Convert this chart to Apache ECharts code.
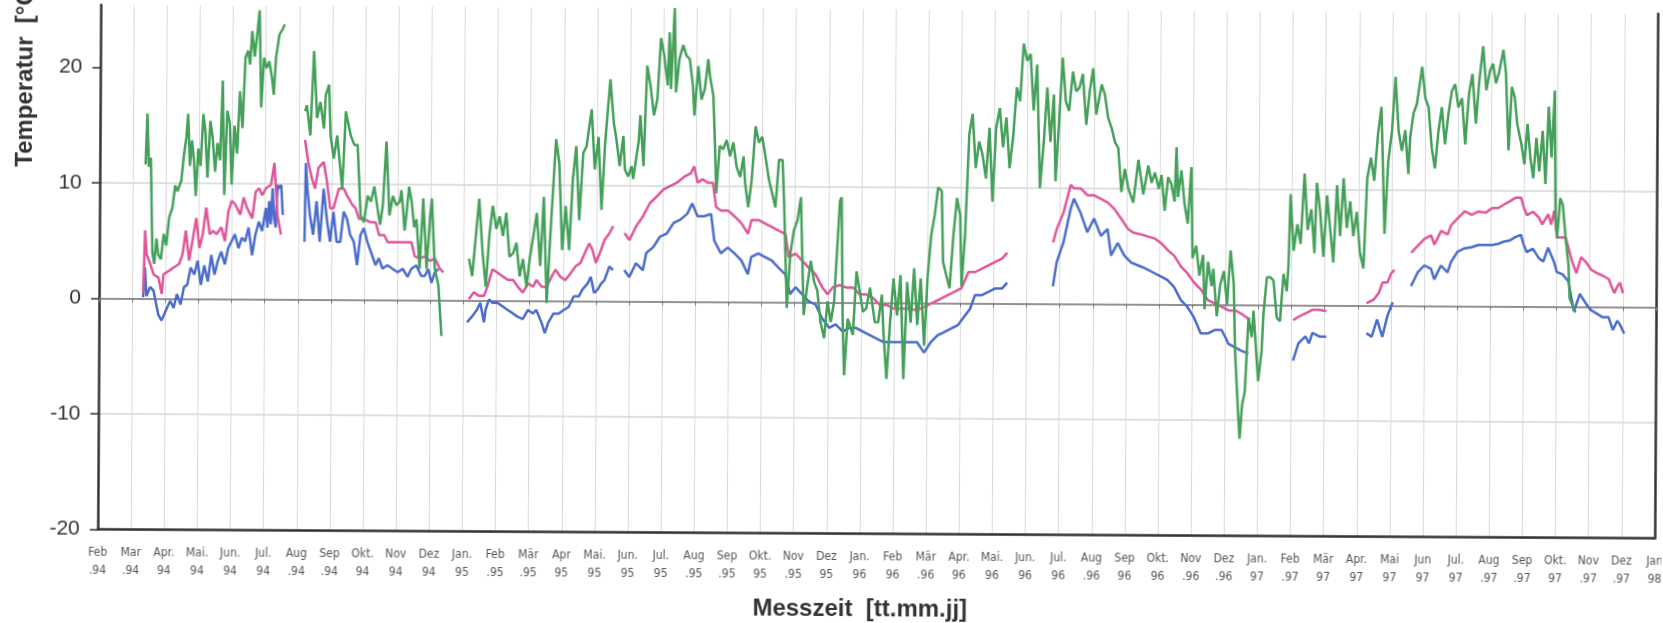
<!DOCTYPE html>
<html><head><meta charset="utf-8">
<script src="https://cdn.jsdelivr.net/npm/echarts@6/dist/echarts.min.js"></script>
<style>
html,body{margin:0;padding:0;background:#fff;overflow:hidden}
#c{width:1663px;height:623px;transform:rotate(0.33deg);transform-origin:50% 50%}
</style>
</head><body><div id="c"></div>
<script>
// Tick labels: one per month, index 0 = Feb 1994 ... 47 = Jan 1998
const monthLabels = ['Feb\n.94','Mar\n.94','Apr.\n94','Mai.\n94','Jun.\n94','Jul.\n94','Aug\n.94','Sep\n.94','Okt.\n94','Nov\n94','Dez\n94',
 'Jan.\n95','Feb\n.95','Mär\n.95','Apr\n95','Mai.\n95','Jun.\n95','Jul.\n95','Aug\n.95','Sep\n.95','Okt.\n95','Nov\n.95','Dez\n95',
 'Jan.\n96','Feb\n96','Mär\n.96','Apr.\n96','Mai.\n96','Jun.\n96','Jul.\n96','Aug\n.96','Sep\n96','Okt.\n96','Nov\n.96','Dez\n.96',
 'Jan.\n97','Feb\n.97','Mär\n97','Apr.\n97','Mai\n97','Jun\n97','Jul.\n97','Aug\n.97','Sep\n.97','Okt.\n97','Nov\n.97','Dez\n.97','Jan\n98'];
const yTicks = [-20,-10,0,10,20];

// Measurement time in months since 1 Feb 1994, temperature value
const greenSegments = [
[[1.38,11.6],[1.43,16.0],[1.48,11.4],[1.54,12.2],[1.60,4.0],[1.66,3.0],[1.72,5.2],[1.78,3.8],[1.86,3.4],[1.94,5.6],[2.02,4.6],[2.10,7.0],[2.20,7.9],[2.28,9.8],[2.35,9.3],[2.46,10.2],[2.54,12.5],[2.61,14.0],[2.66,16.0],[2.72,11.5],[2.78,13.7],[2.84,12.0],[2.90,8.9],[2.97,13.0],[3.04,11.5],[3.12,16.0],[3.18,14.5],[3.25,10.5],[3.33,15.4],[3.40,14.0],[3.48,11.0],[3.55,13.5],[3.63,12.0],[3.70,18.9],[3.76,9.0],[3.84,16.3],[3.92,15.2],[3.98,9.9],[4.06,15.0],[4.14,12.6],[4.22,18.0],[4.30,14.8],[4.38,20.9],[4.46,21.5],[4.52,20.3],[4.58,23.2],[4.66,21.0],[4.74,23.2],[4.80,25.0],[4.86,16.6],[4.94,20.9],[5.02,20.0],[5.10,20.6],[5.18,19.2],[5.24,17.7],[5.30,20.9],[5.40,22.9],[5.50,23.4],[5.56,23.8]],
[[6.19,16.3],[6.24,16.8],[6.35,14.2],[6.45,21.5],[6.55,15.7],[6.65,17.1],[6.76,14.8],[6.81,17.7],[6.91,18.6],[6.96,14.2],[7.06,12.2],[7.16,14.2],[7.32,9.6],[7.42,16.3],[7.57,14.2],[7.68,13.4],[7.78,13.4],[7.88,7.3],[7.98,6.7],[8.09,9.0],[8.19,8.5],[8.29,9.8],[8.39,7.9],[8.47,6.5],[8.55,8.2],[8.65,13.7],[8.75,7.3],[8.85,9.0],[8.96,8.2],[9.06,8.5],[9.11,9.5],[9.16,7.9],[9.21,6.0],[9.26,7.3],[9.34,9.8],[9.42,8.5],[9.50,6.3],[9.57,7.0],[9.67,2.7],[9.77,8.8],[9.88,2.7],[9.98,7.3],[10.03,8.8],[10.13,2.7],[10.24,1.3],[10.34,-3.1]],
[[11.16,3.6],[11.26,2.1],[11.46,8.8],[11.57,4.1],[11.67,1.2],[11.77,5.6],[11.87,8.2],[11.98,6.2],[12.08,7.3],[12.18,5.6],[12.28,7.6],[12.38,3.8],[12.49,4.1],[12.59,5.0],[12.69,2.1],[12.79,3.6],[12.90,1.2],[13.00,3.8],[13.10,5.6],[13.20,7.6],[13.31,3.0],[13.41,9.0],[13.51,-0.2],[13.61,5.6],[13.77,14.0],[13.87,11.9],[13.97,4.4],[14.07,8.2],[14.18,4.4],[14.28,10.5],[14.38,13.4],[14.48,7.0],[14.59,12.8],[14.69,13.4],[14.84,16.6],[14.94,11.4],[15.05,14.2],[15.15,7.9],[15.25,13.7],[15.40,19.2],[15.51,15.4],
[15.59,14.0],[15.69,11.7],[15.80,14.3],[15.85,11.4],[15.95,10.8],[16.05,11.7],[16.10,10.6],[16.26,13.8],[16.31,16.1],[16.41,11.7],[16.51,20.4],[16.61,18.7],[16.72,16.1],[16.82,17.5],[16.92,22.8],[17.02,21.3],[17.13,18.7],[17.18,23.3],[17.23,18.4],[17.33,25.4],[17.38,18.1],[17.48,21.0],[17.59,22.2],[17.69,21.3],[17.79,21.0],[17.89,18.7],[17.94,16.1],[18.05,20.4],[18.15,17.5],[18.25,18.4],[18.35,21.0],[18.40,19.6],[18.51,17.8],[18.56,14.0],[18.61,9.4],[18.71,13.5],[18.81,13.2],[18.92,14.0],[19.02,12.6],[19.12,13.8],[19.22,11.7],[19.33,10.8],[19.43,12.6],[19.48,10.3],[19.58,8.2],[19.68,10.6],[19.79,15.2],[19.89,13.8],[19.99,14.3],[20.09,12.6],[20.20,10.6],[20.30,9.4],[20.40,8.2],[20.50,12.3],[20.61,12.3],[20.66,8.8],[20.76,-0.5],[20.86,4.2],[20.96,6.2],[21.07,7.1],[21.17,9.1],[21.27,-1.1],[21.37,1.3],[21.48,3.6],[21.58,1.8],[21.68,1.0],[21.78,-1.7],[21.89,-3.1],[21.99,0.1],[22.09,-1.7],[22.19,0.1],[22.35,8.8],[22.40,9.1],[22.45,-1.7],[22.50,-6.3],[22.60,-1.4],[22.76,-2.8],[22.86,2.7],[22.96,1.0],[23.06,-0.8],[23.16,-0.5],[23.27,1.3],[23.42,-1.7],[23.52,-1.7],[23.63,0.7],[23.68,-2.5],[23.78,-6.6],[23.88,-1.7],[23.98,2.1],[24.09,-1.1],[24.19,2.4],[24.29,-6.6],[24.39,1.8],[24.50,-1.7],[24.60,3.0],[24.70,-1.9],[24.80,2.1],[24.91,-3.7],[25.01,2.4],[25.11,5.9],[25.21,7.6],[25.31,10.0],[25.42,9.7],[25.47,3.6],[25.57,2.4],[25.67,1.3],[25.78,5.9],[25.88,9.1],[25.98,7.6],[26.03,1.5],[26.13,5.9],[26.24,14.6],[26.34,16.4],[26.44,11.7],[26.54,14.0],[26.64,12.9],[26.75,10.8],[26.85,15.2],[26.95,8.8],[27.05,15.2],[27.16,16.9],[27.26,13.5],[27.36,16.1],[27.46,11.7],[27.57,14.6],[27.67,18.7],[27.77,17.5],[27.87,22.5],[27.98,21.0],[28.08,21.6],[28.18,16.7],[28.28,20.7],[28.38,10.0],[28.49,14.0],[28.59,18.7],[28.69,14.0],[28.79,18.1],[28.85,10.6],[28.95,15.8],[29.05,21.3],[29.15,17.5],[29.25,16.7],[29.36,20.1],[29.46,18.4],[29.56,18.7],[29.66,19.9],[29.77,15.5],[29.87,18.4],[29.97,20.4],[30.07,16.4],[30.23,19.0],[30.33,18.1],[30.43,16.1],[30.54,15.2],[30.64,14.0],[30.74,13.5],[30.84,9.7],[30.94,11.7],[31.05,10.0],[31.20,8.8],[31.35,12.5],[31.50,9.5],[31.65,12.0],[31.75,10.5],
[31.85,11.4],[31.97,10.0],[32.05,11.2],[32.15,8.1],[32.25,11.0],[32.35,10.4],[32.45,8.9],[32.50,13.6],[32.55,9.3],[32.65,11.6],[32.75,8.7],[32.85,7.0],[32.95,11.9],[33.00,4.0],[33.11,5.1],[33.21,2.5],[33.32,4.3],[33.37,-0.4],[33.47,3.7],[33.58,1.6],[33.63,3.1],[33.74,-1.0],[33.84,1.7],[33.95,2.9],[34.05,0.0],[34.15,4.7],[34.25,1.8],[34.30,-4.1],[34.40,-9.3],[34.45,-11.6],[34.52,-8.7],[34.60,-7.5],[34.70,-1.1],[34.80,-2.8],[34.85,-0.5],[34.95,-4.6],[35.00,-6.6],[35.10,-4.0],[35.15,-0.8],[35.25,2.4],[35.35,2.4],[35.45,2.1],[35.55,-1.1],[35.65,-1.4],[35.75,2.7],[35.85,1.2],[35.90,3.5],[35.95,9.6],[36.05,4.7],[36.16,7.0],[36.26,5.3],[36.37,11.4],[36.47,6.5],[36.58,8.3],[36.68,4.5],[36.74,10.6],[36.84,8.3],[36.95,4.2],[37.05,9.5],[37.15,6.6],[37.25,3.7],[37.35,10.4],[37.45,6.0],[37.55,11.0],[37.65,6.7],[37.75,9.0],[37.85,6.0],[37.95,8.1],[38.05,4.6],[38.16,3.2],[38.26,11.0],[38.37,12.8],[38.47,10.8],[38.58,14.9],[38.68,17.2],[38.79,6.2],[38.89,12.5],[39.00,15.1],[39.10,19.8],[39.20,15.1],[39.30,13.4],[39.40,15.2],[39.50,11.4],[39.55,14.6],[39.65,16.7],[39.75,17.5],[39.90,20.7],[40.00,18.0],[40.10,17.2],[40.20,13.7],[40.30,11.9],[40.40,15.1],[40.50,17.2],[40.60,14.0],[40.70,16.6],[40.80,18.6],[40.90,19.2],[41.00,17.2],[41.11,18.0],[41.21,14.0],[41.32,18.4],[41.42,20.1],[41.53,15.8],[41.63,19.6],[41.74,22.5],[41.84,18.7],[41.95,20.4],[42.04,21.0],[42.13,19.3],[42.22,20.2],[42.35,22.2],[42.43,20.2],[42.52,13.5],[42.61,19.0],[42.70,18.1],[42.78,15.8],[42.91,14.0],[43.00,12.3],[43.09,15.8],[43.18,12.9],[43.27,11.1],[43.36,14.6],[43.45,11.7],[43.55,15.2],[43.64,10.6],[43.73,17.3],[43.82,12.9],[43.91,18.7],[43.95,7.9],[44.00,5.9],[44.09,9.4],[44.17,8.8],[44.26,5.9],[44.35,3.6],[44.39,0.7],[44.48,0.1],[44.57,-0.5]]
];

const pinkSegments = [
[[1.33,0.5],[1.38,5.9],[1.43,3.8],[1.54,3.0],[1.64,2.1],[1.79,1.8],[1.89,0.4],[1.94,2.1],[2.10,2.4],[2.25,2.7],[2.41,3.0],[2.51,3.8],[2.61,5.9],[2.71,3.3],[2.81,5.0],[2.92,7.0],[3.02,4.4],[3.12,5.6],[3.22,7.9],[3.33,5.6],[3.43,5.9],[3.53,5.6],[3.68,6.2],[3.79,5.0],[3.89,7.6],[3.99,8.5],[4.09,8.2],[4.25,7.3],[4.35,8.8],[4.45,7.9],[4.61,7.0],[4.71,9.3],[4.81,9.6],[4.91,9.0],[5.02,9.6],[5.17,9.9],[5.27,11.8],[5.37,7.3],[5.48,5.6]],
[[6.19,13.8],[6.29,11.9],[6.40,10.5],[6.50,9.6],[6.60,11.4],[6.76,11.9],[6.86,10.2],[6.96,7.9],[7.06,7.9],[7.22,9.6],[7.37,9.6],[7.47,9.0],[7.63,8.2],[7.73,7.9],[7.83,7.0],[7.98,7.0],[8.19,6.7],[8.34,6.7],[8.44,5.6],[8.60,5.6],[8.70,5.0],[8.80,5.0],[9.01,5.0],[9.21,5.0],[9.42,5.0],[9.52,3.8],[9.67,3.6],[9.83,3.8],[9.98,3.4],[10.13,3.6],[10.29,2.7],[10.39,2.4]],
[[11.16,0.1],[11.31,0.7],[11.46,0.4],[11.62,0.4],[11.72,1.2],[11.87,2.7],[12.03,2.4],[12.18,2.1],[12.33,1.8],[12.49,1.8],[12.64,1.2],[12.79,0.7],[12.95,1.5],[13.10,1.2],[13.20,1.8],[13.36,1.2],[13.51,1.2],[13.66,2.1],[13.77,2.7],[13.92,2.1],[14.07,1.8],[14.23,2.4],[14.38,3.0],[14.53,3.3],[14.69,4.4],[14.79,5.0],[14.89,4.4],[14.99,3.3],[15.10,4.1],[15.25,5.3],[15.40,5.9],[15.51,6.5]],
[[15.85,5.9],[16.00,5.3],[16.20,6.5],[16.41,7.4],[16.61,8.5],[16.82,9.1],[17.02,9.7],[17.23,10.0],[17.43,10.3],[17.64,10.8],[17.84,11.1],[17.94,11.7],[18.05,10.3],[18.20,10.6],[18.35,10.3],[18.51,10.3],[18.61,8.2],[18.76,7.9],[18.97,7.9],[19.17,7.4],[19.38,6.8],[19.58,5.9],[19.68,7.1],[19.89,7.1],[20.09,6.8],[20.30,6.5],[20.50,6.2],[20.71,5.9],[20.81,3.9],[21.02,4.2],[21.22,3.6],[21.42,3.0],[21.63,2.4],[21.83,1.3],[21.99,0.7],[22.14,1.3],[22.35,1.5],[22.55,1.3],[22.76,1.3],[22.96,0.7],[23.16,0.7],[23.37,0.4],[23.57,-0.2],[23.78,-0.2],[23.98,-0.5],[24.19,-0.5],[24.39,-0.5],[24.60,-0.6],[24.80,-0.5],[25.01,-0.2],[25.21,0.1],[25.42,0.4],[25.62,0.7],[25.83,1.0],[26.03,1.3],[26.24,2.7],[26.44,2.7],[26.64,3.0],[26.85,3.3],[27.05,3.6],[27.26,3.9],[27.41,4.4]],
[[28.79,5.3],[28.90,6.5],[29.10,7.9],[29.31,10.3],[29.41,10.0],[29.61,10.0],[29.82,9.4],[30.02,9.4],[30.23,9.1],[30.43,8.8],[30.64,8.2],[30.84,7.4],[31.05,6.5],[31.20,6.2],[31.50,6.0],[31.85,5.7],[32.05,5.3],[32.25,4.7],[32.45,4.2],[32.65,3.3],[32.85,2.7],[33.05,1.9],[33.26,1.3],[33.47,0.4],[33.68,0.1],[33.89,-0.2],[34.10,-0.5],[34.30,-0.5],[34.50,-0.8],[34.65,-1.1],[34.75,-1.3]],
[[36.05,-1.3],[36.21,-1.0],[36.42,-0.7],[36.63,-0.4],[36.84,-0.4],[37.05,-0.5]],
[[38.26,0.2],[38.47,0.5],[38.63,1.1],[38.74,2.0],[38.89,2.0],[39.00,2.8],[39.10,3.1]],
[[39.60,4.6],[39.80,5.2],[40.00,5.8],[40.20,6.1],[40.30,5.3],[40.50,6.5],[40.70,6.2],[40.80,7.0],[41.00,7.6],[41.21,8.2],[41.42,7.9],[41.63,8.2],[41.84,8.1],[42.04,8.5],[42.22,8.5],[42.39,8.8],[42.57,9.1],[42.74,9.4],[42.91,9.4],[43.00,8.5],[43.09,7.9],[43.27,8.2],[43.45,7.7],[43.55,7.1],[43.73,8.0],[43.82,7.1],[43.91,8.3],[44.00,6.0],[44.17,6.0],[44.26,6.0],[44.45,4.0],[44.59,2.9],[44.73,4.3],[44.90,3.8],[45.04,3.2],[45.22,2.9],[45.39,2.7],[45.57,2.4],[45.65,1.8],[45.74,1.2],[45.83,1.8],[45.91,2.1],[46.00,1.2]]
];

const blueSegments = [
[[1.33,0.1],[1.38,2.7],[1.43,0.2],[1.54,1.0],[1.64,0.7],[1.79,-1.4],[1.89,-1.9],[2.05,-0.8],[2.15,-0.2],[2.25,-0.8],[2.35,0.4],[2.46,-0.5],[2.56,1.0],[2.66,1.2],[2.76,2.7],[2.87,2.1],[2.97,3.3],[3.07,1.2],[3.17,2.9],[3.28,1.5],[3.38,3.8],[3.48,2.1],[3.58,3.3],[3.68,4.1],[3.79,3.0],[3.89,4.4],[3.99,5.0],[4.09,5.6],[4.20,4.4],[4.30,5.3],[4.40,5.0],[4.50,6.2],[4.61,3.8],[4.71,5.6],[4.81,6.7],[4.91,5.9],[5.02,7.9],[5.07,6.2],[5.12,8.5],[5.17,6.5],[5.22,9.6],[5.27,7.0],[5.32,6.2],[5.37,9.9],[5.42,9.6],[5.48,9.9],[5.53,7.3]],
[[6.19,5.0],[6.22,11.8],[6.27,9.6],[6.35,7.3],[6.45,5.6],[6.55,8.5],[6.65,5.0],[6.76,9.6],[6.86,7.0],[6.96,5.0],[7.06,7.6],[7.16,5.0],[7.27,5.0],[7.37,7.6],[7.47,7.0],[7.57,5.6],[7.68,5.0],[7.78,3.0],[7.88,5.6],[7.98,6.2],[8.09,5.0],[8.24,3.8],[8.34,3.0],[8.44,3.6],[8.55,2.7],[8.70,3.0],[8.85,2.7],[9.01,2.4],[9.16,2.7],[9.31,2.0],[9.42,2.7],[9.57,3.0],[9.72,2.1],[9.83,2.1],[9.93,2.7],[10.03,1.5],[10.13,2.4],[10.24,2.7]],
[[11.11,-1.9],[11.26,-1.4],[11.41,-0.8],[11.51,-0.2],[11.62,-1.9],[11.67,-0.8],[11.77,0.1],[11.87,-0.2],[12.03,-0.2],[12.18,-0.5],[12.33,-0.8],[12.49,-1.1],[12.64,-1.4],[12.79,-1.6],[12.95,-0.8],[13.10,-1.1],[13.20,-0.8],[13.36,-1.9],[13.46,-2.8],[13.56,-1.9],[13.72,-1.1],[13.87,-1.1],[14.02,-0.8],[14.18,-0.5],[14.33,0.4],[14.48,0.4],[14.59,1.0],[14.74,1.5],[14.84,2.1],[14.94,0.7],[15.05,1.0],[15.15,1.5],[15.25,1.8],[15.40,3.0],[15.51,2.7]],
[[15.85,2.7],[16.00,2.1],[16.20,3.3],[16.41,2.7],[16.51,4.2],[16.72,4.7],[16.92,5.6],[17.13,5.9],[17.33,6.8],[17.54,7.1],[17.74,7.6],[17.89,8.5],[18.05,7.4],[18.25,7.4],[18.46,7.6],[18.56,5.3],[18.76,4.2],[18.97,4.7],[19.17,4.2],[19.38,3.6],[19.58,2.4],[19.68,3.9],[19.89,4.2],[20.09,3.9],[20.30,3.6],[20.50,3.0],[20.71,2.4],[20.86,0.7],[21.02,1.3],[21.22,0.7],[21.42,0.1],[21.63,-0.2],[21.83,-1.4],[22.04,-2.2],[22.24,-1.9],[22.45,-2.5],[22.65,-2.2],[22.86,-2.2],[23.06,-2.5],[23.27,-2.8],[23.47,-3.1],[23.68,-3.4],[23.88,-3.4],[24.09,-3.4],[24.29,-3.4],[24.50,-3.4],[24.70,-3.4],[24.91,-4.3],[25.11,-3.4],[25.31,-2.8],[25.52,-2.5],[25.72,-2.2],[25.93,-1.9],[26.13,-1.1],[26.29,-0.5],[26.44,0.7],[26.64,0.7],[26.85,1.0],[27.05,1.3],[27.26,1.3],[27.41,1.8]],
[[28.79,1.5],[28.90,3.6],[29.10,5.3],[29.31,8.2],[29.41,9.1],[29.61,7.9],[29.82,6.2],[30.02,7.4],[30.23,5.9],[30.43,6.5],[30.54,4.2],[30.74,5.3],[30.94,4.2],[31.15,3.6],[31.50,3.2],[31.85,2.7],[32.05,2.4],[32.25,2.1],[32.45,1.5],[32.65,0.4],[32.85,-0.2],[33.05,-1.1],[33.26,-2.5],[33.47,-2.5],[33.68,-2.2],[33.89,-2.2],[34.00,-2.8],[34.10,-3.4],[34.30,-3.7],[34.50,-4.0],[34.70,-4.2]],
[[36.05,-4.8],[36.21,-3.3],[36.42,-2.7],[36.53,-3.3],[36.63,-2.4],[36.84,-2.7],[37.05,-2.7]],
[[38.26,-2.4],[38.42,-2.7],[38.58,-1.2],[38.74,-2.7],[38.89,-0.9],[39.05,0.3]],
[[39.60,1.7],[39.80,2.9],[40.00,3.5],[40.20,3.2],[40.30,2.3],[40.50,3.5],[40.70,2.9],[40.80,3.8],[41.00,4.7],[41.21,5.0],[41.42,5.1],[41.63,5.3],[41.84,5.3],[42.04,5.3],[42.22,5.4],[42.39,5.6],[42.57,5.7],[42.74,6.0],[42.91,6.2],[43.00,5.3],[43.09,4.7],[43.27,5.0],[43.45,4.2],[43.59,3.9],[43.73,5.1],[43.91,3.9],[44.00,3.0],[44.17,2.8],[44.35,2.2],[44.52,-0.4],[44.70,1.1],[44.90,0.2],[45.04,-0.3],[45.22,-0.6],[45.39,-0.9],[45.57,-0.9],[45.70,-2.0],[45.83,-1.2],[45.91,-1.5],[46.04,-2.3]]
];

// joins measurement segments with an empty point so the line breaks at the gaps
function joinSegments(segs) {
  const out = [];
  segs.forEach((s, i) => {
    if (i > 0) out.push([(segs[i-1][segs[i-1].length-1][0] + s[0][0]) / 2, '-']);
    s.forEach(p => out.push(p));
  });
  return out;
}

const chart = echarts.init(document.getElementById('c'), null, {renderer: 'canvas'});
const labelFont = "'Liberation Sans', Arial, sans-serif";
const lineSeries = (name, color, segs) => ({
  name, type: 'line', data: joinSegments(segs), showSymbol: false, symbol: 'none',
  connectNulls: false, lineStyle: {color, width: 2.5}, itemStyle: {color},
  emphasis: {disabled: true}, animation: false
});

chart.setOption({
  backgroundColor: '#ffffff',
  animation: false,
  grid: {left: 99, right: 7, top: 9, bottom: 89.5, containLabel: false, outerBoundsMode: 'none'},
  xAxis: [{
    type: 'value', min: 0, max: monthLabels.length - 1, interval: 1, position: 'bottom',
    axisLine: {show: true, onZero: false, lineStyle: {color: '#333', width: 2.5}},
    axisTick: {show: false},
    axisLabel: {
      formatter: v => monthLabels[Math.round(v)] || '',
      fontFamily: "'Liberation Sans Narrow', 'DejaVu Sans Condensed', 'Arial Narrow', sans-serif",
      fontSize: 12, color: '#555', lineHeight: 18, margin: 14,
      showMinLabel: true, showMaxLabel: true
    },
    splitLine: {show: true, lineStyle: {color: '#dadada', width: 1}},
    name: 'Messzeit  [tt.mm.jj]', nameLocation: 'middle', nameGap: 64,
    nameTextStyle: {fontFamily: labelFont, fontSize: 24, fontWeight: 'bold', color: '#333', padding: [0, 32, 0, 0]}
  }, {
    type: 'value', min: 0, max: monthLabels.length - 1, interval: 1, position: 'bottom',
    axisLine: {show: true, onZero: true, onZeroAxisIndex: 0, lineStyle: {color: '#7a7a7a', width: 1.5}},
    axisTick: {show: true, length: 4, lineStyle: {color: '#7a7a7a', width: 1}},
    axisLabel: {show: false}, splitLine: {show: false}
  }],
  yAxis: [{
    type: 'value', min: yTicks[0], max: 25.4, interval: 10, position: 'left',
    axisLine: {show: true, onZero: false, lineStyle: {color: '#333', width: 2.5}},
    axisTick: {show: true, length: 8, customValues: yTicks, lineStyle: {color: '#333', width: 1.5}},
    axisLabel: {fontFamily: labelFont, fontSize: 21, color: '#333', margin: 18, showMaxLabel: false},
    splitLine: {show: true, showMaxLine: false, lineStyle: {color: '#d4d4d4', width: 1.5}},
    name: 'Temperatur  [°C]', nameLocation: 'middle', nameGap: 63,
    nameTextStyle: {fontFamily: labelFont, fontSize: 24, fontWeight: 'bold', color: '#333', padding: [0, 0, 0, 386]}
  }, {
    type: 'value', min: yTicks[0], max: 25.4, position: 'right',
    axisLine: {show: true, onZero: false, lineStyle: {color: '#333', width: 2.5}},
    axisTick: {show: false}, axisLabel: {show: false}, splitLine: {show: false}
  }],
  series: [
    lineSeries('Temperatur 3', '#4a6ccc', blueSegments),
    lineSeries('Temperatur 2', '#e0559a', pinkSegments),
    lineSeries('Temperatur 1', '#45a05a', greenSegments)
  ]
});
</script>
</body></html>
